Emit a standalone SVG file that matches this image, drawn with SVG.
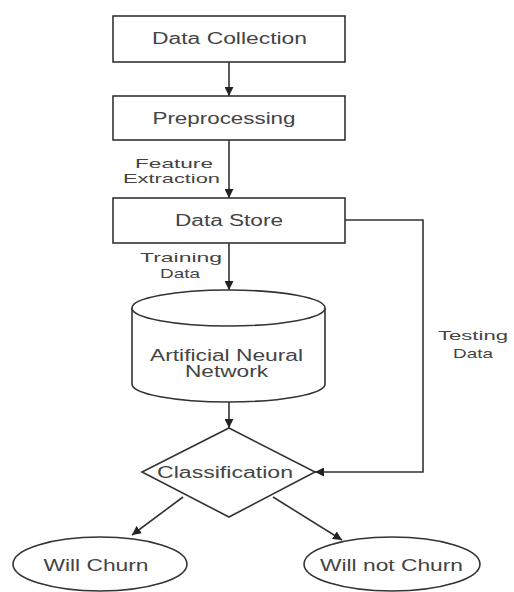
<svg xmlns="http://www.w3.org/2000/svg" width="514" height="592" viewBox="0 0 514 592">
<style>
.shape{fill:#fff;stroke:#333;stroke-width:1.6}
.t{font-family:"Liberation Sans",Arial,sans-serif;font-size:16px;fill:#444;text-anchor:middle}
.l{font-family:"Liberation Sans",Arial,sans-serif;font-size:13px;fill:#444;text-anchor:middle}
.c{fill:none;stroke:#333;stroke-width:1.6}
</style>
<defs>
<marker id="ah" viewBox="0 0 10 10" refX="10" refY="5" markerWidth="9" markerHeight="9" markerUnits="userSpaceOnUse" orient="auto">
<path d="M0,0 L10,5 L0,10 z" fill="#222"/>
</marker>
</defs>
<rect width="514" height="592" fill="#fff"/>
<g id="connectors">
<line class="c" x1="229" y1="62" x2="229" y2="96" marker-end="url(#ah)"/>
<line class="c" x1="229" y1="140" x2="229" y2="198" marker-end="url(#ah)"/>
<line class="c" x1="229" y1="243" x2="229" y2="290" marker-end="url(#ah)"/>
<line class="c" x1="229" y1="402" x2="229" y2="428" marker-end="url(#ah)"/>
<polyline class="c" points="345,220 423,220 423,472 315,472" marker-end="url(#ah)"/>
<line class="c" x1="183" y1="497" x2="132" y2="535" marker-end="url(#ah)"/>
<line class="c" x1="273" y1="497" x2="342" y2="540" marker-end="url(#ah)"/>
<text class="l" x="174" y="168" textLength="78" lengthAdjust="spacingAndGlyphs">Feature</text>
<text class="l" x="171.5" y="183" textLength="97" lengthAdjust="spacingAndGlyphs">Extraction</text>
<text class="l" x="181" y="262" textLength="82" lengthAdjust="spacingAndGlyphs">Training</text>
<text class="l" x="180" y="278" textLength="40" lengthAdjust="spacingAndGlyphs">Data</text>
<text class="l" x="473" y="340" textLength="70" lengthAdjust="spacingAndGlyphs">Testing</text>
<text class="l" x="473" y="358" textLength="40" lengthAdjust="spacingAndGlyphs">Data</text>
</g>
<g id="data-collection">
<rect class="shape" x="113" y="16" width="232" height="46"/>
<text class="t" x="229.5" y="44" textLength="155" lengthAdjust="spacingAndGlyphs">Data Collection</text>
</g>
<g id="preprocessing">
<rect class="shape" x="113" y="96" width="232" height="44"/>
<text class="t" x="224" y="124" textLength="143" lengthAdjust="spacingAndGlyphs">Preprocessing</text>
</g>
<g id="data-store">
<rect class="shape" x="113" y="198" width="232" height="45"/>
<text class="t" x="229" y="226" textLength="108" lengthAdjust="spacingAndGlyphs">Data Store</text>
</g>
<g id="ann">
<path class="shape" d="M132,308 L132,384 A96.5,18 0 0 0 325,384 L325,308"/>
<ellipse class="shape" cx="228.5" cy="308" rx="96.5" ry="18"/>
<text class="t" x="226.5" y="361" textLength="153" lengthAdjust="spacingAndGlyphs">Artificial Neural</text>
<text class="t" x="226.5" y="377" textLength="83" lengthAdjust="spacingAndGlyphs">Network</text>
</g>
<g id="classification">
<polygon class="shape" points="229,428 315,472 229,517 142,472"/>
<text class="t" x="225" y="478" textLength="136" lengthAdjust="spacingAndGlyphs">Classification</text>
</g>
<g id="will-churn">
<ellipse class="shape" cx="100" cy="564" rx="87" ry="27"/>
<text class="t" x="96" y="571" textLength="105" lengthAdjust="spacingAndGlyphs">Will Churn</text>
</g>
<g id="will-not-churn">
<ellipse class="shape" cx="392" cy="564" rx="88" ry="27"/>
<text class="t" x="391.5" y="571" textLength="143" lengthAdjust="spacingAndGlyphs">Will not Churn</text>
</g>
</svg>
